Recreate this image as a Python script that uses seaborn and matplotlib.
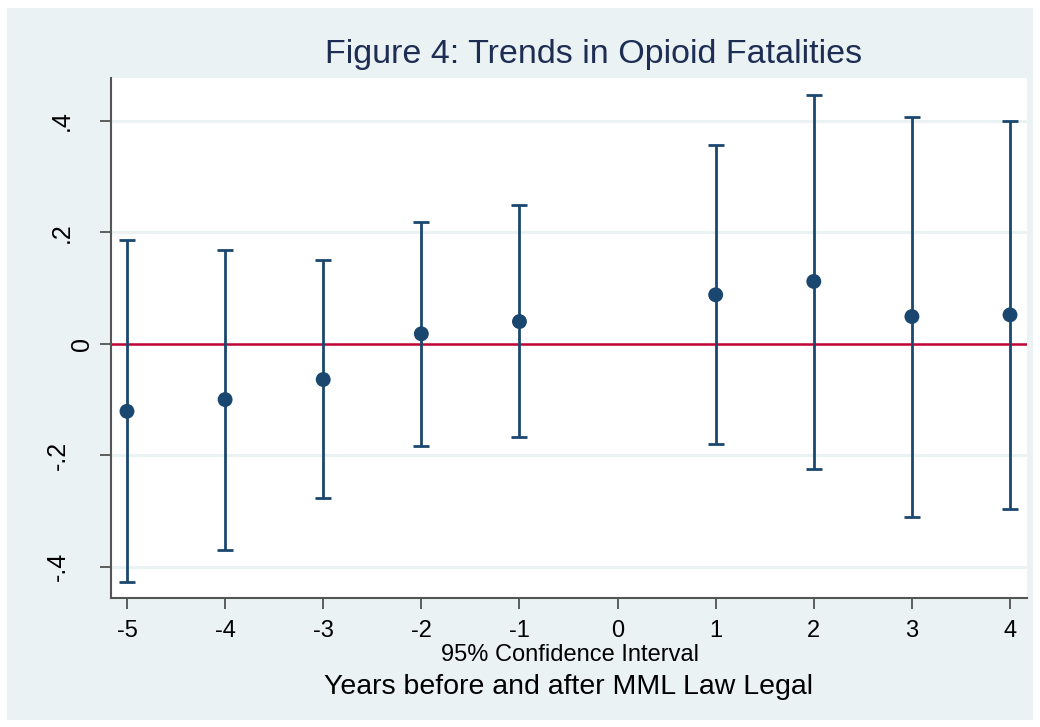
import matplotlib
matplotlib.use("Agg")
import matplotlib.pyplot as plt
import matplotlib.transforms as mtransforms
from matplotlib.patches import Rectangle
import seaborn as sns
import pandas as pd

# Event-study estimates with 95% confidence bounds
years = [-5, -4, -3, -2, -1, 1, 2, 3, 4]
estimate = [-0.121, -0.100, -0.064, 0.018, 0.040, 0.088, 0.112, 0.049, 0.052]
lower = [-0.428, -0.369, -0.276, -0.183, -0.168, -0.179, -0.224, -0.311, -0.296]
upper = [0.186, 0.169, 0.150, 0.219, 0.249, 0.357, 0.447, 0.407, 0.399]

x_ticks = [-5, -4, -3, -2, -1, 0, 1, 2, 3, 4]
y_ticks = [-0.4, -0.2, 0, 0.2, 0.4]
y_tick_labels = ["-.4", "-.2", "0", ".2", ".4"]

title = "Figure 4: Trends in Opioid Fatalities"
note = "95% Confidence Interval"
x_title = "Years before and after MML Law Legal"

df = pd.DataFrame({"year": years, "est": estimate, "lo": lower, "hi": upper})

NAVY = "#1A476F"
RED = "#C10534"
BG = "#EAF2F3"

sns.set_theme(style="white")
plt.rcParams["font.family"] = ["Liberation Sans", "DejaVu Sans"]

fig = plt.figure(figsize=(10.4, 7.27), dpi=100, facecolor="white")
fig.patches.append(Rectangle((7 / 1040, 1 - 720 / 727), 1026 / 1040, 712 / 727,
                             transform=fig.transFigure, facecolor=BG,
                             edgecolor="none", zorder=-10))

ax = fig.add_axes([111 / 1040, 1 - 598 / 727, 916 / 1040, 520 / 727])
ax.set_zorder(1)
ax.set_facecolor("white")

ax.set_xlim(-5.163, 4.173)
ax.set_ylim(-0.456, 0.477)

for yv in y_ticks:
    ax.axhline(yv, color=BG, lw=2.2, zorder=0)
ax.axhline(0, color=RED, lw=1.8, zorder=1)

ax.errorbar(df["year"], df["est"],
            yerr=[df["est"] - df["lo"], df["hi"] - df["est"]],
            fmt="none", ecolor=NAVY, elinewidth=2.0, capsize=6, capthick=2.0, zorder=2)
sns.scatterplot(data=df, x="year", y="est", ax=ax, color=NAVY, s=115,
                edgecolor="none", zorder=3, legend=False)

ax.set_xticks(x_ticks)
ax.set_xticklabels([str(v) for v in x_ticks], fontsize=17)
ax.set_yticks(y_ticks)
ax.set_yticklabels(y_tick_labels, fontsize=18, rotation=90, va="center")
ax.tick_params(axis="both", which="both", direction="out", length=8, width=1.2,
               color="#444444", labelcolor="black", bottom=True, left=True)
ax.tick_params(axis="x", pad=8)
ax.tick_params(axis="y", pad=19)
ax.set_xlabel("")
ax.set_ylabel("")

# the vertical "0" label sits closer to the axis than the other labels
label_shift_px = {"0": 21, "-.2": -4, "-.4": -4}
for lab in ax.get_yticklabels():
    dx = label_shift_px.get(lab.get_text(), 0)
    if dx:
        lab.set_transform(lab.get_transform()
                          + mtransforms.ScaledTranslation(dx / 100, 0, fig.dpi_scale_trans))

for side in ["top", "right"]:
    ax.spines[side].set_visible(False)
for side in ["left", "bottom"]:
    ax.spines[side].set_color("#555555")
    ax.spines[side].set_linewidth(1.5)

fig.text(594 / 1040, 1 - 55 / 727, title, ha="center", va="center",
         fontsize=24.5, color="#1E2D53")
fig.text(570 / 1040, 1 - 661 / 727, note, ha="center", va="baseline", fontsize=17,
         color="black")
fig.text(568 / 1040, 1 - 694 / 727, x_title, ha="center", va="baseline", fontsize=20.5,
         color="black")

fig.savefig("out.png", dpi=100, facecolor="white")
